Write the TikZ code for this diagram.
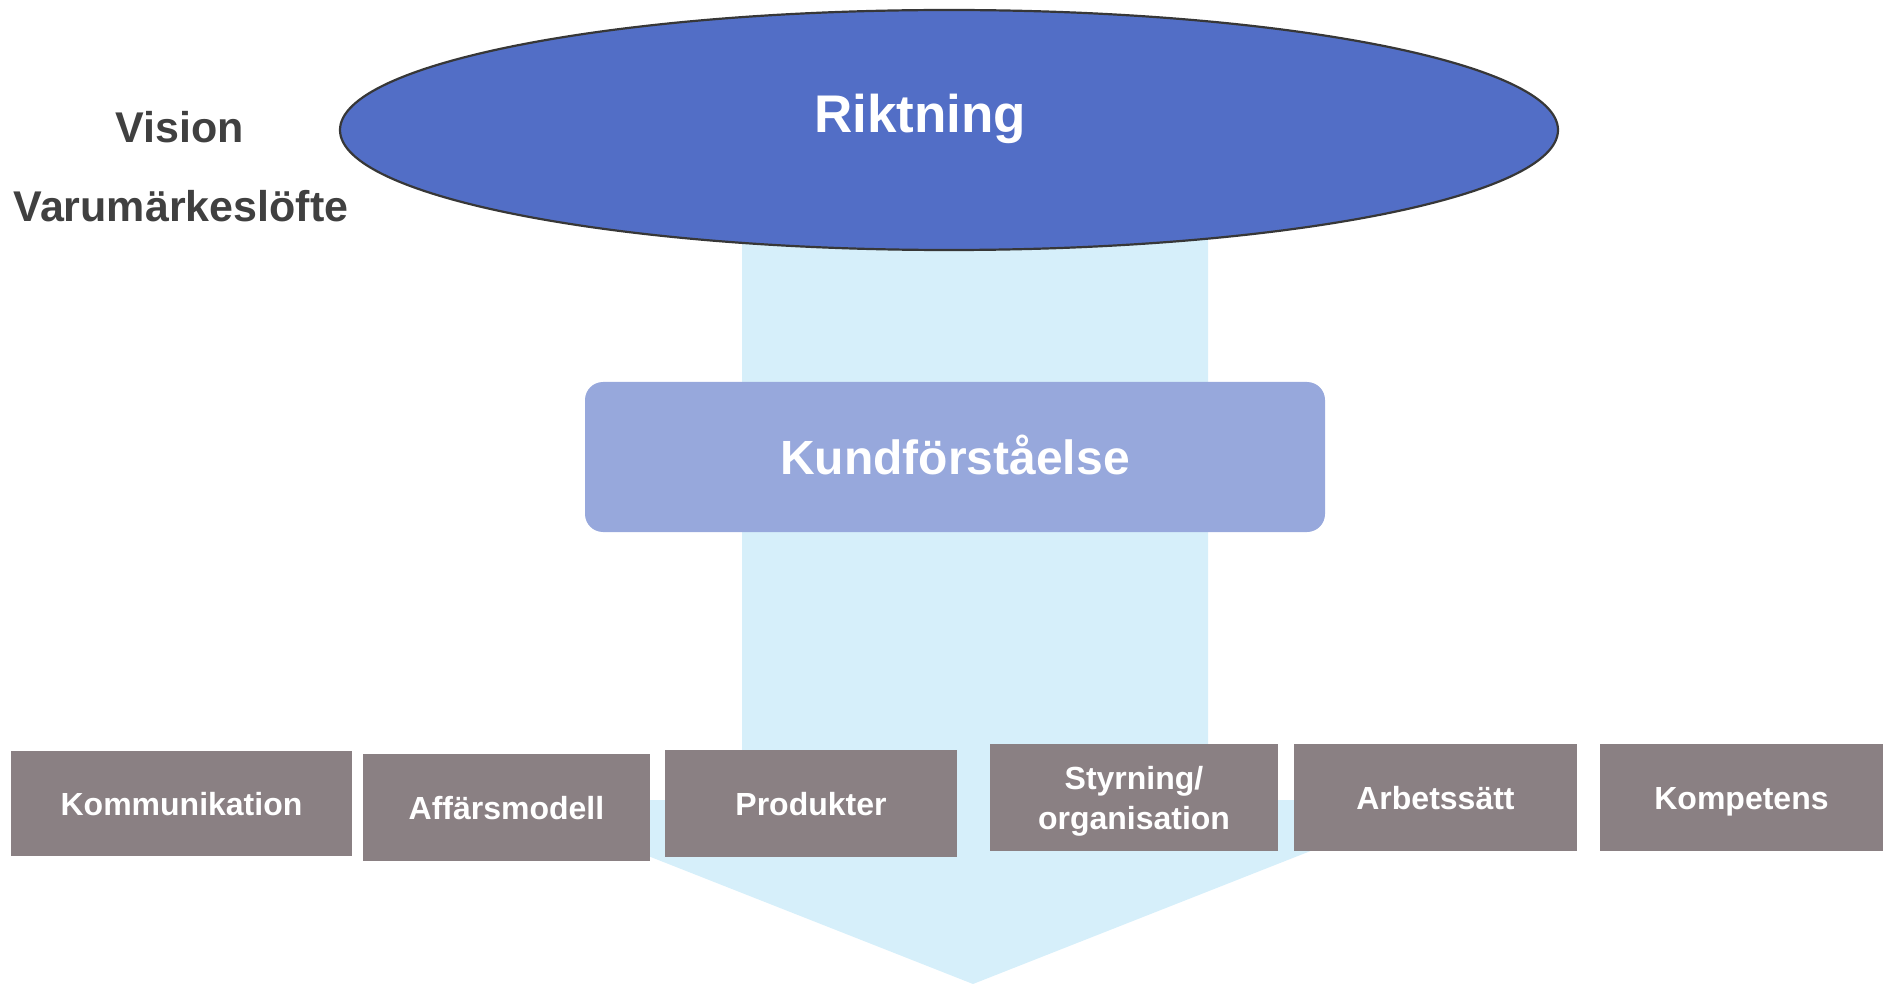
\documentclass[tikz,border=0pt]{standalone}
\usepackage{fontspec}
\setmainfont{Liberation Sans}
\usetikzlibrary{shapes.geometric}
\definecolor{ellblue}{RGB}{82,110,198}
\definecolor{kundblue}{RGB}{151,168,220}
\definecolor{boxgrey}{RGB}{138,128,131}
\definecolor{arrowcyan}{RGB}{214,239,250}
\definecolor{darktext}{RGB}{64,64,64}
\definecolor{ellline}{RGB}{55,55,55}
\tikzset{
  gbox/.style={fill=boxgrey, draw=none},
  btext/.style={anchor=base, text=white, font=\bfseries\fontsize{32}{40}\selectfont, inner sep=0pt, align=center},
  sidetext/.style={anchor=base, text=darktext, font=\bfseries\fontsize{43}{50}\selectfont, inner sep=0pt}
}
\begin{document}
\begin{tikzpicture}[x=1pt,y=-1pt]
\useasboundingbox (0,0) rectangle (1883,984);
% big arrow
\fill[arrowcyan] (742,200) -- (1208,200) -- (1208,800) -- (1440,800) -- (973,984) -- (506,800) -- (742,800) -- cycle;
% ellipse
\node[ellipse, fill=ellblue, draw=ellline, line width=2.2pt, minimum width=1218pt, minimum height=240pt, inner sep=0pt] (ell) at (949,130) {};
\node[anchor=base, text=white, font=\bfseries\fontsize{53}{60}\selectfont, inner sep=0pt] (rikt) at (920,133) {Riktning};
% left texts
\node[sidetext] (vision) at (180,143) {Vision};
\node[sidetext] (varu) at (181,222) {Varumärkeslöfte};
% Kundförståelse
\node[fill=kundblue, rounded corners=18pt, minimum width=740pt, minimum height=150pt, inner sep=0pt] (kund) at (955,457) {};
\node[anchor=base, text=white, font=\bfseries\fontsize{48}{56}\selectfont, inner sep=0pt] (kundt) at (955,474) {Kundförståelse};
% grey boxes
\fill[gbox] (11,751) rectangle (352,856);
\node[inner sep=0pt] (b1) at (181.5,803.5) {};
\node[btext] (t1) at (181.5,815) {Kommunikation};
\fill[gbox] (363,754) rectangle (650,861);
\node[inner sep=0pt] (b2) at (506.5,807.5) {};
\node[btext] (t2) at (506.5,819) {Affärsmodell};
\fill[gbox] (665,750) rectangle (957,857);
\node[inner sep=0pt] (b3) at (811,803.5) {};
\node[btext] (t3) at (811,815) {Produkter};
\fill[gbox] (990,744) rectangle (1278,851);
\node[inner sep=0pt] (b4) at (1134,797.5) {};
\node[btext] (t4a) at (1134,789) {Styrning/};
\node[btext] (t4b) at (1134,829) {organisation};
\fill[gbox] (1294,744) rectangle (1577,851);
\node[inner sep=0pt] (b5) at (1435.5,797.5) {};
\node[btext] (t5) at (1435.5,809) {Arbetssätt};
\fill[gbox] (1600,744) rectangle (1883,851);
\node[inner sep=0pt] (b6) at (1741.5,797.5) {};
\node[btext] (t6) at (1741.5,809) {Kompetens};
\end{tikzpicture}
\end{document}
